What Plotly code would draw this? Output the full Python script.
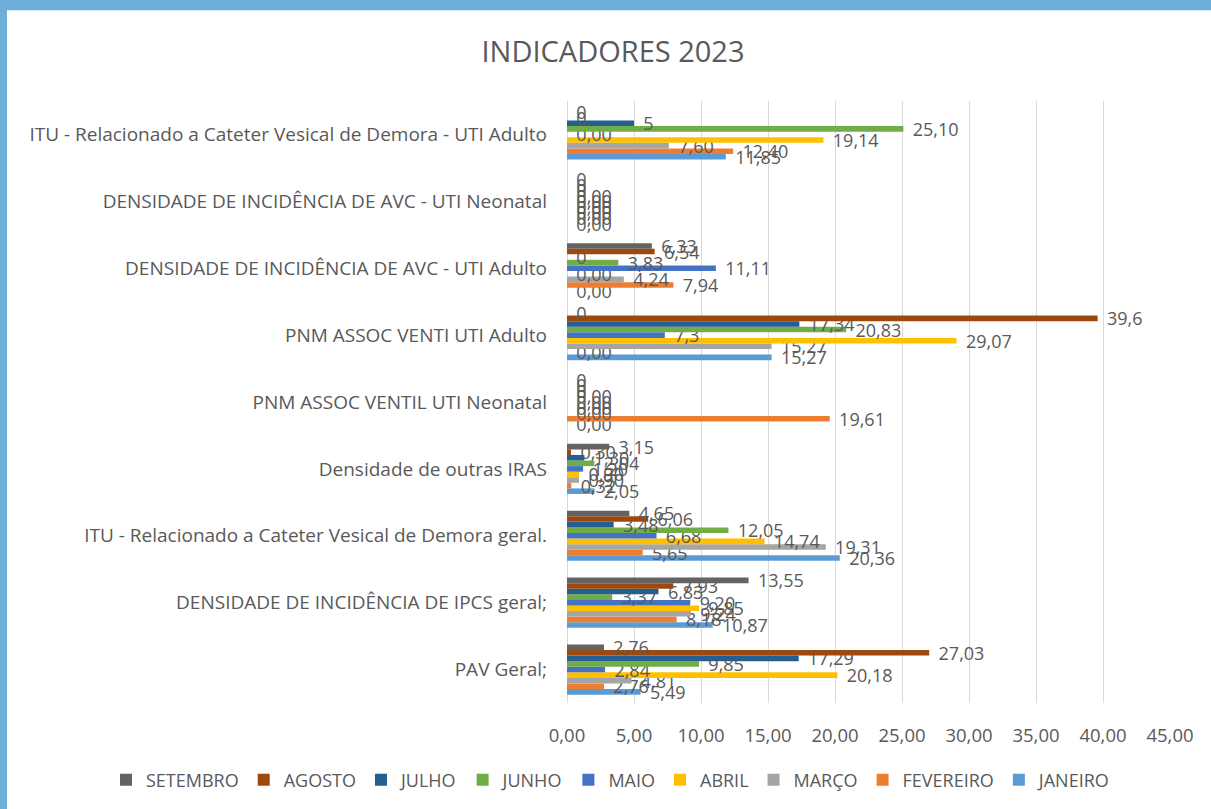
import plotly.graph_objects as go

# Categories (bottom to top)
categories = [
    "PAV Geral;",
    "DENSIDADE DE INCIDÊNCIA DE IPCS geral;",
    "ITU - Relacionado a Cateter Vesical de Demora geral.",
    "Densidade de outras IRAS",
    "PNM ASSOC VENTIL UTI Neonatal",
    "PNM ASSOC VENTI UTI Adulto",
    "DENSIDADE DE INCIDÊNCIA DE AVC - UTI Adulto",
    "DENSIDADE DE INCIDÊNCIA DE AVC - UTI Neonatal",
    "ITU - Relacionado a Cateter Vesical de Demora - UTI Adulto",
]

# Values per month, written as shown in the data labels (decimal comma)
JANEIRO   = ["5,49", "10,87", "20,36", "2,05", "0,00", "15,27", "0,00", "0,00", "11,85"]
FEVEREIRO = ["2,76", "8,18", "5,65", "0,32", "19,61", "0,00", "7,94", "0,00", "12,40"]
MARCO     = ["4,81", "9,24", "19,31", "0,90", "0,00", "15,27", "4,24", "0,00", "7,60"]
ABRIL     = ["20,18", "9,85", "14,74", "0,90", "0,00", "29,07", "0,00", "0,00", "19,14"]
MAIO      = ["2,84", "9,20", "6,68", "1,20", "0,00", "7,3", "11,11", "0,00", "0,00"]
JUNHO     = ["9,85", "3,37", "12,05", "2,04", "0,00", "20,83", "3,83", "0,00", "25,10"]
JULHO     = ["17,29", "6,83", "3,48", "1,30", "0", "17,34", "0", "0", "5"]
AGOSTO    = ["27,03", "7,93", "6,06", "0,30", "0", "39,6", "6,54", "0", "0"]
SETEMBRO  = ["2,76", "13,55", "4,65", "3,15", "0", "0", "6,33", "0", "0"]

months = ["JANEIRO", "FEVEREIRO", "MARÇO", "ABRIL", "MAIO", "JUNHO", "JULHO", "AGOSTO", "SETEMBRO"]
series = [JANEIRO, FEVEREIRO, MARCO, ABRIL, MAIO, JUNHO, JULHO, AGOSTO, SETEMBRO]
colors = ["#5B9BD5", "#ED7D31", "#A5A5A5", "#FFC000", "#4472C4",
          "#70AD47", "#255E91", "#9E480E", "#636363"]

x_ticks = [0, 5, 10, 15, 20, 25, 30, 35, 40, 45]

FONT = "Open Sans"
TXT = "#595959"
PAD = "\u00a0\u00a0"

fig = go.Figure()
for name, vals, col in zip(months, series, colors):
    nums = [float(v.replace(",", ".")) for v in vals]
    fig.add_trace(go.Bar(
        y=categories, x=nums, name=name, orientation="h",
        marker=dict(color=col, line=dict(width=0)),
        text=[PAD + v for v in vals], textposition="outside", constraintext="none",
        textfont=dict(family=FONT, size=18, color=TXT),
        cliponaxis=False, hoverinfo="x+name",
    ))

L, R, T, B = 567, 41, 101, 105
W, H = 1211, 809
pw, ph = W - L - R, H - T - B

def px_x(p):
    return (p - L) / pw

def px_y(p):
    return (T + ph - p) / ph

fig.update_layout(
    width=W, height=H,
    barmode="group", bargap=0.25, bargroupgap=0,
    separators=", ",
    paper_bgcolor="#6DAEDB", plot_bgcolor="rgba(0,0,0,0)",
    margin=dict(l=L, r=R, t=T, b=B),
    font=dict(family=FONT, color=TXT),
    title=dict(text="INDICADORES 2023", x=px_x(613), xref="paper", xanchor="center",
               y=1 - 52 / H, yanchor="middle",
               font=dict(family=FONT, size=29, color=TXT)),
    showlegend=True,
    legend=dict(orientation="h", traceorder="reversed",
                x=px_x(106), xanchor="left", y=px_y(780), yanchor="middle",
                font=dict(family=FONT, size=18, color=TXT), itemwidth=30,
                bgcolor="rgba(0,0,0,0)"),
    shapes=[dict(type="rect", xref="paper", yref="paper", layer="below",
                 x0=px_x(7), x1=px_x(W + 5),
                 y0=px_y(H + 5), y1=px_y(10),
                 fillcolor="white", line=dict(width=0))],
)

fig.update_xaxes(range=[0, 45], tickvals=x_ticks, tickformat=".2f",
                 showgrid=True, gridcolor="#D9D9D9", gridwidth=1,
                 zeroline=True, zerolinecolor="#D9D9D9", zerolinewidth=1,
                 showline=False, ticks="", ticklabelstandoff=19,
                 tickfont=dict(family=FONT, size=18.5, color=TXT))
fig.update_yaxes(categoryorder="array", categoryarray=categories,
                 range=[-0.5, len(categories) - 0.5],
                 showgrid=False, zeroline=False, showline=False, ticks="",
                 ticklabelstandoff=19,
                 tickfont=dict(family=FONT, size=19, color=TXT))

fig.write_html("out.html", config={"displayModeBar": False},
               post_script="document.body.style.margin='0';")
